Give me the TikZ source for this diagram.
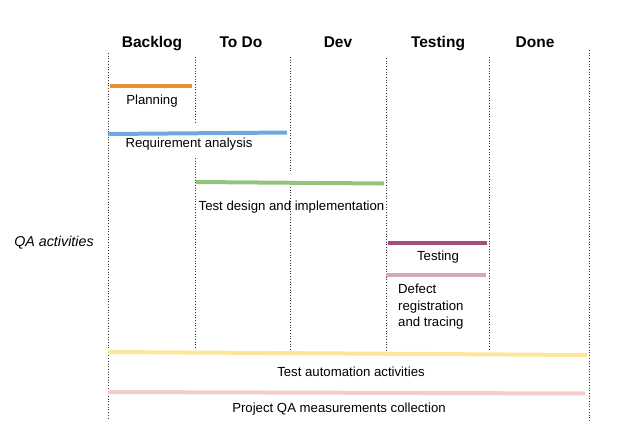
\documentclass[tikz,border=0pt]{standalone}
\usepackage{fontspec}
\setmainfont{Liberation Sans}
\definecolor{planC}{HTML}{E69138}
\definecolor{reqC}{HTML}{6FA8DC}
\definecolor{desC}{HTML}{93C47D}
\definecolor{testC}{HTML}{A64D79}
\definecolor{defC}{HTML}{D5A6BD}
\definecolor{autoC}{HTML}{FFE599}
\definecolor{measC}{HTML}{F4CCCC}
\tikzset{
  colhead/.style={font=\fontsize{15.5}{18}\selectfont\bfseries, anchor=base},
  actlabel/.style={font=\fontsize{13.2}{16.5}\selectfont, inner sep=0pt, anchor=base},
  bar/.style={line width=4pt},
  grid/.style={dotted, line width=0.7pt, black!80}
}
\begin{document}
\begin{tikzpicture}[x=1pt,y=-1pt]

      \useasboundingbox (0,0) rectangle (631,440);

      % column lines
      \begin{scope}[grid]
        \draw (108,53) -- (108,420);
        \draw (195,57) -- (195,123);
        \draw (195,158) -- (195,349);
        \draw (290,57) -- (290,173);
        \draw (290,187) -- (290,350);
        \draw (386,58) -- (386,351);
        \draw (489,57) -- (489,350);
        \draw (589,50) -- (589,421);
      \end{scope}

      \begin{scope}[every node/.style={colhead}]
        \node (backlog) at (152,47.5) {Backlog};
        \node (todo)    at (241,47.5) {To Do};
        \node (dev)     at (338,47.5) {Dev};
        \node (testing) at (438,47.5) {Testing};
        \node (done)    at (535,47.5) {Done};
      \end{scope}

      % bar ends
      \coordinate (plan1) at (110,86);   \coordinate (plan2) at (192,86);
      \coordinate (req1)  at (108,134);  \coordinate (req2)  at (287,132.5);
      \coordinate (des1)  at (196,182);  \coordinate (des2)  at (384,183.5);
      \coordinate (test1) at (388,243);  \coordinate (test2) at (487,243);
      \coordinate (def1)  at (386,275);  \coordinate (def2)  at (486,275);
      \coordinate (auto1) at (108,352);  \coordinate (auto2) at (587,355);
      \coordinate (meas1) at (108,392);  \coordinate (meas2) at (585,393.5);

      \begin{scope}[every path/.style={bar}]
        \draw[planC] (plan1) -- (plan2);
        \draw[reqC]  (req1)  -- (req2);
        \draw[desC]  (des1)  -- (des2);
        \draw[testC] (test1) -- (test2);
        \draw[defC]  (def1)  -- (def2);
        \draw[autoC] (auto1) -- (auto2);
        \draw[measC] (meas1) -- (meas2);
      \end{scope}

      \begin{scope}[every node/.style={actlabel}]
        \node (planning) at (152,104.7) {Planning};
        \node (reqan)    at (189,147.7) {Requirement analysis};
        \node (design)   at (291.5,210.7) {Test design and implementation};
        \node (testact)  at (438,260.7) {Testing};
        \node[anchor=north west, align=left] (defect) at (398,284) {Defect\\registration\\and tracing};
        \node (automat)  at (351,376.7) {Test automation activities};
        \node (measure)  at (339,412.5) {Project QA measurements collection};
        \node[font=\fontsize{14.3}{17}\selectfont\itshape] (qa) at (54,246.7) {QA activities};
      \end{scope}

    \end{tikzpicture}
\end{document}
